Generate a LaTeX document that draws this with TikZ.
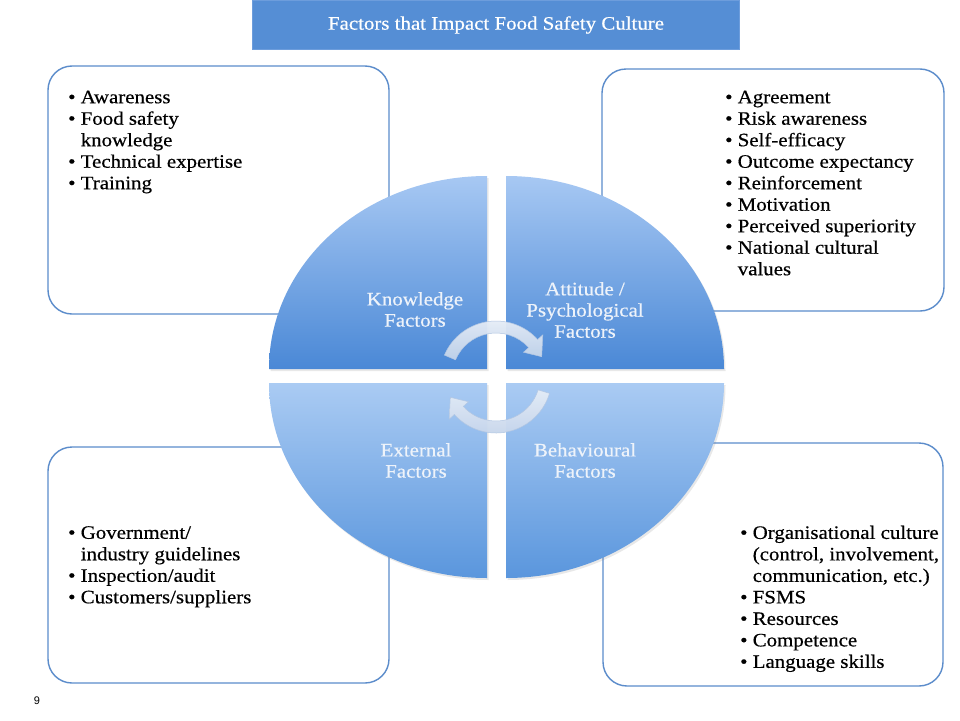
\documentclass[tikz,border=0pt]{standalone}
\usepackage{fontspec}
\setmainfont{Liberation Serif}[FakeStretch=1.1, FakeBold=0.5]
\newfontfamily\pagenumfont{Liberation Sans}
\usetikzlibrary{calc,shadows}
\definecolor{boxblue}{HTML}{5B8CCB}
\definecolor{titleblue}{HTML}{558ED5}
\definecolor{titleedge}{HTML}{6D9DDC}
\definecolor{qlight}{HTML}{A7C8F3}
\definecolor{qdark}{HTML}{4A88D6}
\definecolor{qlightB}{HTML}{AACBF3}
\definecolor{qdarkB}{HTML}{5A96DD}
\definecolor{labelwhite}{HTML}{EEF3FA}
\definecolor{arrowtop}{HTML}{E6EDF7}
\definecolor{arrowbot}{HTML}{C3D3EA}
\definecolor{arrowedge}{HTML}{B2C6E2}
\newcommand{\mybul}{\textbullet\ }
\newcommand{\myind}{\phantom{\textbullet\ }}
\begin{document}
\begin{tikzpicture}[x=1pt,y=-1pt,
  infobox/.style={draw=boxblue, line width=1.4pt, rounded corners=24pt, fill=white, inner sep=0pt},
  bullettext/.style={font={\fontsize{19}{21.5}\selectfont}, align=left, inner sep=0pt, anchor=north west, text=black},
  qlabel/.style={font={\fontsize{19}{21.2}\selectfont}, align=center, inner sep=0pt, text=labelwhite},
  quadup/.style={top color=qlight, bottom color=qdark, drop shadow={opacity=0.18, shadow xshift=1.5pt, shadow yshift=-2pt}},
  quaddown/.style={top color=qlightB, bottom color=qdarkB, drop shadow={opacity=0.18, shadow xshift=1.5pt, shadow yshift=-2pt}},
  cyclearrow/.style={top color=arrowtop, bottom color=arrowbot, draw=arrowedge, line width=0.5pt, fill opacity=0.95}
]
\useasboundingbox (0,0) rectangle (960,720);
\fill[white] (0,0) rectangle (960,720);

% title
\node[fill=titleblue, draw=titleedge, line width=0.8pt, minimum width=487pt, minimum height=49pt, inner sep=0pt,
      text=white, font={\fontsize{19}{22}\selectfont}] (title) at (496,25) {Factors that Impact Food Safety Culture};

% boxes
\node[infobox, minimum width=341pt, minimum height=248pt] (boxTL) at (218.5,190) {};
\node[infobox, minimum width=342pt, minimum height=242pt] (boxTR) at (773,190) {};
\node[infobox, minimum width=341pt, minimum height=236pt] (boxBL) at (218.5,565) {};
\node[infobox, minimum width=340pt, minimum height=243pt] (boxBR) at (773,564.5) {};

% box texts
\node[bullettext] (txtTL) at (68,90.5) {\mybul Awareness\\ \mybul Food safety\\ \myind knowledge\\ \mybul Technical expertise\\ \mybul Training};
\node[bullettext] (txtTR) at (725,90.5) {\mybul Agreement\\ \mybul Risk awareness\\ \mybul Self-efficacy\\ \mybul Outcome expectancy\\ \mybul Reinforcement\\ \mybul Motivation\\ \mybul Perceived superiority\\ \mybul National cultural\\ \myind values};
\node[bullettext] (txtBL) at (68,526) {\mybul Government/\\ \myind industry guidelines\\ \mybul Inspection/audit\\ \mybul Customers/suppliers};
\node[bullettext] (txtBR) at (740,525.5) {\mybul Organisational culture\\ \myind (control, involvement,\\ \myind communication, etc.)\\ \mybul FSMS\\ \mybul Resources\\ \mybul Competence\\ \mybul Language skills};

% quadrants
\path[quadup] (487,369) -- (269,369) arc[start angle=180, end angle=90, x radius=218pt, y radius=193pt] -- cycle;
\path[quadup] (506,369) -- (506,176) arc[start angle=90, end angle=0, x radius=218pt, y radius=193pt] -- cycle;
\path[quaddown] (487,383) -- (269,383) arc[start angle=180, end angle=270, x radius=218pt, y radius=195pt] -- cycle;
\path[quaddown] (506,383) -- (724,383) arc[start angle=0, end angle=-90, x radius=218pt, y radius=195pt] -- cycle;

% quadrant labels
\node[qlabel] (qK) at (415,309.5) {Knowledge\\Factors};
\node[qlabel] (qA) at (585,310) {Attitude /\\Psychological\\Factors};
\node[qlabel] (qE) at (416,460.5) {External\\Factors};
\node[qlabel] (qB) at (585,460.5) {Behavioural\\Factors};

% cycle arrows
\coordinate (c) at (496,377);
\path[cyclearrow] ($(c)+(157:44pt)$) -- ($(c)+(157:56pt)$) arc[start angle=157, end angle=42, radius=56pt]
   -- ($(c)+(42:63pt)$) -- ($(c)+(24:50pt)$) -- ($(c)+(42:37pt)$) -- ($(c)+(42:44pt)$)
   arc[start angle=42, end angle=157, radius=44pt] -- cycle;
\path[cyclearrow] ($(c)+(-17:44pt)$) -- ($(c)+(-17:56pt)$) arc[start angle=-17, end angle=-138, radius=56pt]
   -- ($(c)+(-138:63pt)$) -- ($(c)+(-156:50pt)$) -- ($(c)+(-138:37pt)$) -- ($(c)+(-138:44pt)$)
   arc[start angle=-138, end angle=-17, radius=44pt] -- cycle;

% page number
\node[font={\pagenumfont\fontsize{11}{13}\selectfont}, inner sep=0pt, text=black] (pagenum) at (37,701) {9};
\end{tikzpicture}
\end{document}
